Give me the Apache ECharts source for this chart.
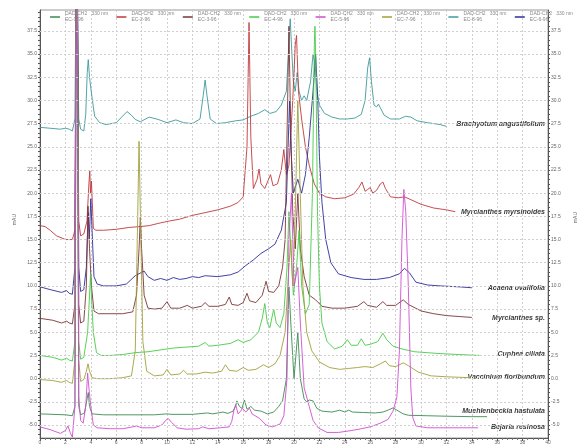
<!DOCTYPE html>
<html><head><meta charset="utf-8">
<script src="https://cdn.jsdelivr.net/npm/echarts@6/dist/echarts.min.js"></script>
<style>html,body{margin:0;padding:0;background:#fff}#c{width:579px;height:445px}</style>
</head><body><div id="c"></div><script>
// ---- data ----
const sampleNames = ['Brachyotum angustifolium','Myrcianthes myrsinoides','Acaena ovalifolia','Myrcianthes sp.','Cuphea ciliata','Vaccinium floribundum','Muehlenbeckia hastulata','Bejaria resinosa'];
const legendCodes = ['EC-8-96','EC-2-96','EC-6-96','EC-3-96','EC-4-96','EC-7-96','EC-1-96','EC-5-96'];
const legendOrder = ['EC-1-96','EC-2-96','EC-3-96','EC-4-96','EC-5-96','EC-7-96','EC-8-96','EC-6-96'];
const yTickValues = [-5,-2.5,0,2.5,5,7.5,10,12.5,15,17.5,20,22.5,25,27.5,30,32.5,35,37.5];
const yMinorValues = [-6,-5.5,-5,-4.5,-4,-3.5,-3,-2.5,-2,-1.5,-1,-0.5,0,0.5,1,1.5,2,2.5,3,3.5,4,4.5,5,5.5,6,6.5,7,7.5,8,8.5,9,9.5,10,10.5,11,11.5,12,12.5,13,13.5,14,14.5,15,15.5,16,16.5,17,17.5,18,18.5,19,19.5,20,20.5,21,21.5,22,22.5,23,23.5,24,24.5,25,25.5,26,26.5,27,27.5,28,28.5,29,29.5,30,30.5,31,31.5,32,32.5,33,33.5,34,34.5,35,35.5,36,36.5,37,37.5,38,38.5,39,39.5];

const brachyotum = [[0,27.1],[0.8,27.0],[1.6,26.9],[2.0,27.0],[2.15,27.2],[2.3,26.9],[2.55,26.7],[2.75,28],[2.85,45],[2.95,40],[3.05,28],[3.2,26.9],[3.45,26.7],[3.6,28.5],[3.72,33],[3.8,34.4],[3.9,32.5],[4.05,30.8],[4.3,28.3],[4.7,27.6],[5.2,27.4],[6.0,27.6],[6.5,28.3],[6.85,28.8],[7.2,28.4],[7.5,27.95],[7.9,27.7],[8.6,28.2],[9.3,27.95],[10.0,27.6],[10.7,27.9],[11.3,27.6],[12.0,27.5],[12.6,28],[12.85,30.5],[13.0,32.2],[13.15,30.5],[13.4,28],[13.9,27.5],[14.6,27.6],[15.4,27.8],[16.0,27.9],[16.6,28.3],[17.2,28.6],[17.7,29.0],[18.1,28.6],[18.6,28.8],[19.0,29.5],[19.4,31],[19.6,36],[19.7,38.8],[19.8,36],[19.95,32],[20.1,31],[20.25,33],[20.4,31],[20.6,30],[20.8,30.5],[21.0,30],[21.3,32],[21.5,35],[21.65,34],[21.8,31],[22.0,29.5],[22.4,28.6],[23.0,28.2],[23.6,28],[24.2,28],[24.8,28.1],[25.3,28.5],[25.6,30],[25.8,33.5],[25.95,34.6],[26.1,32],[26.3,29.5],[26.5,29.3],[26.65,29.6],[26.8,29.2],[27.1,28.4],[27.6,28],[28.3,28],[28.8,28.3],[29.2,28.2],[29.7,27.8],[30.5,27.6],[31.5,27.4],[32.0,27.2]];
const myrsinoides = [[0,16.5],[0.4,16.4],[0.8,16.0],[1.3,15.4],[2.0,15.0],[2.55,15.0],[2.75,16],[2.85,44],[2.95,40],[3.05,17],[3.2,15.4],[3.45,15.6],[3.7,17],[3.85,21],[3.92,22.4],[3.98,20],[4.05,21.3],[4.12,19],[4.2,16.2],[4.4,16.0],[5.0,16.0],[6.0,16.1],[7.0,16.3],[7.9,16.4],[8.6,16.5],[9.5,16.8],[10.2,17.0],[11.0,17.2],[12.0,17.6],[13.0,17.9],[14.0,18.2],[15.0,18.6],[15.6,19.0],[16.0,19.6],[16.3,25],[16.46,38.4],[16.6,26],[16.8,20.5],[17.1,21.5],[17.25,22.6],[17.4,21],[17.7,20.5],[18.0,21.5],[18.15,22.0],[18.35,20.8],[18.7,21],[19.0,22.5],[19.2,24.7],[19.4,22],[19.6,23],[19.9,30],[20.1,36],[20.2,37],[20.35,31],[20.6,28],[20.9,25],[21.2,23],[21.6,21],[22.0,20],[22.5,19.6],[23.2,19.4],[24.0,19.5],[24.7,19.9],[25.1,20.6],[25.35,21.2],[25.6,20.2],[25.8,20.4],[26.0,20.6],[26.2,20.0],[26.5,20.3],[26.8,21.0],[27.0,21.2],[27.2,20.5],[27.6,19.6],[28.2,19.5],[28.7,19.6],[29.2,19.3],[30.0,18.8],[31.0,18.4],[32.0,18.2],[32.7,18.0]];
const acaena = [[0,9.9],[0.8,9.6],[1.7,9.3],[2.1,9.5],[2.3,9.2],[2.55,9.1],[2.75,12],[2.85,50],[2.95,45],[3.05,12],[3.2,9.4],[3.45,9.6],[3.65,12],[3.8,17.9],[3.88,15],[4.0,19.4],[4.1,16],[4.25,11.0],[4.5,10.2],[5.0,10.0],[6.0,10.0],[6.8,10.2],[7.5,11.1],[8.2,11.6],[8.5,11.0],[9.0,10.6],[9.5,10.8],[10.0,10.6],[10.5,10.9],[11.0,10.7],[11.5,10.8],[12.0,11.0],[12.5,10.9],[13.0,11.1],[14.0,11.0],[15.0,11.2],[15.6,11.5],[16.2,12.2],[16.8,12.8],[17.4,13.5],[18.0,14.0],[18.5,14.5],[19.0,16],[19.4,19],[19.65,30],[19.75,25],[19.95,20],[20.3,21.5],[20.6,20],[20.9,22],[21.2,26],[21.5,31],[21.7,35],[21.85,31],[22.0,24],[22.2,19],[22.5,15],[22.9,12.5],[23.5,11.3],[24.5,10.9],[25.5,10.7],[26.5,10.7],[27.5,10.9],[28.3,11.3],[28.7,11.9],[29.1,11.4],[29.6,10.4],[30.5,10.1],[31.5,10.0],[33.0,9.9],[34.0,9.8]];
const myrcianthesSp = [[0,6.5],[1.0,6.3],[1.7,6.0],[2.1,6.2],[2.3,6.0],[2.55,5.9],[2.75,8],[2.85,45],[2.95,40],[3.05,8],[3.2,6.0],[3.45,6.2],[3.65,10],[3.78,18.6],[3.9,14],[4.05,10],[4.25,7.3],[4.6,7.0],[5.5,7.0],[6.5,7.0],[7.3,7.2],[7.6,9],[7.8,14],[7.9,17.4],[8.0,14],[8.2,9],[8.5,7.6],[9.0,7.5],[9.6,7.6],[10.0,8.3],[10.3,7.6],[11.0,7.6],[11.6,7.9],[12.0,7.6],[12.7,7.8],[13.0,8.2],[13.3,7.8],[14.0,7.8],[14.6,8.0],[14.9,8.8],[15.1,8.0],[15.6,7.9],[16.0,8.2],[16.3,9.2],[16.5,8.4],[17.0,8.2],[17.5,9],[17.8,10.5],[18.0,9.4],[18.4,9.3],[18.8,10],[19.1,12],[19.3,15],[19.5,30],[19.6,38],[19.7,30],[19.9,18],[20.1,14],[20.3,20],[20.5,14],[20.8,11],[21.2,9],[21.7,8.5],[22.2,7.8],[23.0,7.6],[24.0,7.6],[25.0,7.8],[25.5,8.3],[25.8,7.9],[26.5,7.7],[27.0,8.3],[27.3,7.9],[28.0,7.9],[28.6,8.5],[29.0,8.0],[30.0,7.3],[31.0,7.0],[32.0,6.8],[33.0,6.7],[34.0,6.6]];
const cuphea = [[0,2.5],[1.0,2.3],[1.7,2.0],[2.1,2.2],[2.3,2.0],[2.55,1.9],[2.75,4],[2.85,45],[2.95,40],[3.05,4],[3.2,2.1],[3.45,2.3],[3.75,5],[3.9,9],[3.98,11.3],[4.05,9],[4.2,5],[4.45,2.8],[4.8,2.5],[5.5,2.5],[6.5,2.6],[7.5,2.8],[8.5,2.9],[9.5,3.1],[10.5,3.3],[11.5,3.4],[12.5,3.5],[13.0,3.9],[13.3,3.5],[14.0,3.6],[15.0,3.8],[15.6,4.2],[16.0,3.9],[16.6,4.2],[17.2,5],[17.5,6.5],[17.7,8.1],[17.9,6],[18.1,5.5],[18.4,7.5],[18.6,6],[18.9,5.5],[19.2,7],[19.45,12],[19.6,18],[19.75,14],[19.95,9],[20.2,12],[20.4,16],[20.6,10],[20.9,7],[21.2,8],[21.45,20],[21.6,36],[21.65,38],[21.72,34],[21.85,18],[22.0,10],[22.2,6],[22.6,4],[23.2,3.2],[23.8,3.5],[24.2,4.2],[24.5,3.6],[25.0,3.6],[25.3,4.3],[25.6,3.6],[26.0,3.7],[26.6,4.0],[27.0,4.9],[27.3,4.2],[27.8,3.5],[28.5,3.2],[29.5,2.9],[30.5,2.8],[31.5,2.7],[33.0,2.6],[34.6,2.5]];
const vaccinium = [[0,-0.1],[1.0,-0.2],[1.7,-0.4],[2.1,-0.2],[2.3,-0.4],[2.55,-0.5],[2.75,2],[2.85,43],[2.95,38],[3.05,2],[3.2,-0.3],[3.45,-0.1],[3.65,0.8],[3.78,1.6],[3.9,0.8],[4.1,0.1],[4.5,0.0],[5.5,0.0],[6.5,0.1],[7.2,0.3],[7.5,3],[7.7,18],[7.8,25.6],[7.9,18],[8.1,4],[8.4,0.8],[9.0,0.3],[9.7,0.4],[10.0,1.0],[10.3,0.4],[11.0,0.5],[11.3,0.9],[11.6,0.5],[12.3,0.5],[13.0,0.7],[13.6,0.6],[14.3,0.8],[14.6,1.5],[14.9,0.9],[15.5,0.8],[16.0,1.2],[16.4,0.9],[17.0,1.0],[17.6,1.5],[18.0,1.2],[18.5,1.6],[18.9,2.5],[19.3,5],[19.6,12],[19.75,15],[19.9,10],[20.1,18],[20.3,30],[20.45,22],[20.7,10],[21.0,5],[21.4,3],[22.0,1.8],[22.8,1.2],[23.6,1.0],[24.3,1.1],[25.0,1.2],[25.6,1.3],[26.2,1.2],[26.8,1.6],[27.2,1.9],[27.5,1.4],[28.0,1.3],[28.6,1.7],[29.0,1.4],[29.8,0.7],[30.8,0.3],[32.0,0.2],[33.9,0.1]];
const muehlenbeckia = [[0,-3.8],[2.0,-3.9],[2.55,-4.0],[2.75,-3],[2.85,40],[2.95,35],[3.05,-3],[3.2,-3.9],[3.5,-3.7],[3.8,-1.5],[3.9,-3.0],[4.1,-3.8],[5.0,-3.9],[7.0,-3.9],[9.0,-3.9],[10.0,-3.8],[10.1,-3.6],[10.3,-3.85],[12.0,-3.85],[13.2,-3.7],[13.6,-3.8],[14.4,-3.6],[14.8,-3.75],[15.2,-3.5],[15.4,-3.0],[15.5,-2.4],[15.7,-3.0],[15.9,-3.2],[16.1,-2.3],[16.3,-3.3],[16.6,-3.0],[16.9,-3.4],[17.4,-3.5],[17.9,-3.8],[18.4,-3.6],[18.8,-3.0],[19.1,-2.4],[19.4,0],[19.6,10],[19.75,6],[20.0,0],[20.3,5],[20.5,0],[20.8,-2.2],[21.0,-2.5],[21.2,-2.3],[21.5,-2.4],[21.8,-3.2],[22.2,-3.5],[23.0,-3.6],[23.6,-3.4],[24.0,-3.6],[24.3,-3.4],[24.6,-3.6],[25.4,-3.65],[26.4,-3.7],[27.0,-3.6],[27.4,-3.4],[27.8,-3.15],[28.1,-3.4],[28.6,-3.8],[29.0,-3.95],[30.5,-4.0],[32.0,-4.05],[34.0,-4.1],[35.2,-4.1]];
const bejaria = [[0,-5.2],[0.8,-5.5],[1.6,-5.9],[2.0,-5.6],[2.2,-5.1],[2.4,-5.9],[2.55,-6.3],[2.75,-3],[2.85,42],[2.95,37],[3.05,-2],[3.2,-4.5],[3.4,-4.8],[3.6,-3],[3.75,0.6],[3.85,-1],[4.0,-3],[4.2,-5.0],[4.5,-5.3],[5.5,-5.4],[6.5,-5.4],[7.3,-5.2],[7.6,-5.1],[8.0,-5.3],[9.0,-5.3],[9.6,-5.0],[9.9,-4.5],[10.1,-4.3],[10.35,-4.7],[10.8,-5.3],[11.5,-5.45],[12.5,-5.4],[12.8,-5.2],[13.3,-5.4],[14.2,-5.3],[14.9,-5.2],[15.1,-4.6],[15.3,-3.2],[15.4,-2.8],[15.6,-3.8],[15.8,-3.5],[15.95,-3.2],[16.2,-3.6],[16.5,-3.2],[16.7,-3.8],[17.3,-4.3],[17.8,-5.0],[18.3,-5.2],[18.9,-4.9],[19.2,-4.0],[19.45,0],[19.6,15],[19.8,20],[20.0,10],[20.3,12],[20.5,6],[20.8,-1],[21.2,-3],[21.5,-4.5],[21.9,-5.3],[22.6,-5.8],[23.5,-5.8],[24.5,-5.6],[25.3,-5.4],[26.0,-5.2],[26.8,-4.8],[27.4,-4.4],[27.8,-3.5],[28.1,-2],[28.3,3],[28.5,15],[28.65,20.4],[28.8,18],[29.0,10],[29.2,-1],[29.35,-4.2],[29.6,-5.1],[30.5,-5.3],[31.5,-5.3],[32.5,-5.3],[34.5,-5.3]];

const traces = [brachyotum, myrsinoides, acaena, myrcianthesSp, cuphea, vaccinium, muehlenbeckia, bejaria];

// ---- styles / layout ----
const colors = ['#3e9a9c','#c0393c','#2c2c9c','#7c3434','#45cc45','#a0a03a','#3a8c50','#d04ed0'];
const labelPos = [[545,124],[545,212],[545,288],[545,318],[545,354],[545,377],[545,411],[545,427]];

const chart = echarts.init(document.getElementById('c'), null, {renderer:'canvas'});
const series = traces.map((d,i)=>({
  name: legendCodes[i], type:'line', data:d, showSymbol:false, symbol:'none',
  lineStyle:{width:0.9, color:colors[i]}, itemStyle:{color:colors[i]}, z:3, animation:false, clip:true
}));
series.unshift({
  name:'grid', type:'line', data:[], z:1, silent:true, animation:false,
  markLine:{silent:true, symbol:'none', animation:false, label:{show:false},
    lineStyle:{type:[2,2], color:'#cfcfcf', width:1},
    data: yTickValues.map(v=>({yAxis:v}))}
});
const legends = legendOrder.map((code,i)=>({
  data:[code], left: 50 + 66.4*i, top: 11, orient:'horizontal',
  icon:'rect', itemWidth:10, itemHeight:1.5, itemGap:0,
  formatter: n => 'DAD-CH2   330 nm\n' + n,
  textStyle:{fontSize:5, color:'#8a8a8a', lineHeight:6, padding:[0,0,0,0], fontFamily:'Liberation Sans'},
  padding:0, selectedMode:false
}));
const yAxisBase = {
  type:'value', min:-6.4, max:39.75,
  axisLine:{show:true, lineStyle:{color:'#555', width:1}},
  axisTick:{show:true, length:2, customValues:yMinorValues, lineStyle:{color:'#555'}},
  axisLabel:{show:true, customValues:yTickValues, formatter:v=>v.toFixed(1), fontSize:5, color:'#666', margin:3, fontFamily:'Liberation Sans'},
  splitLine:{show:false}
};
chart.setOption({
  backgroundColor:'#fff',
  animation:false,
  grid:{left:40, right:31, top:10, bottom:5, show:true, borderColor:'#999', borderWidth:1, containLabel:false},
  legend: legends,
  xAxis:{type:'value', min:0, max:40, interval:2,
    axisLine:{show:true, onZero:false, lineStyle:{color:'#555'}},
    axisTick:{show:true, length:3, lineStyle:{color:'#555'}},
    minorTick:{show:true, splitNumber:5, length:2, lineStyle:{color:'#777'}},
    axisLabel:{fontSize:5, color:'#666', margin:2, fontFamily:'Liberation Sans'},
    splitLine:{show:true, lineStyle:{type:[2,2], color:'#cfcfcf'}}
  },
  yAxis:[Object.assign({}, yAxisBase, {position:'left'}), Object.assign({}, yAxisBase, {position:'right'})],
  series: series,
  graphic: [
    {type:'text', left:12, top:214, rotation:Math.PI/2, style:{text:'mAU', fontSize:5, fill:'#666', fontFamily:'Liberation Sans'}},
    {type:'text', left:573, top:212, rotation:Math.PI/2, style:{text:'mAU', fontSize:5, fill:'#666', fontFamily:'Liberation Sans'}}
  ].concat(sampleNames.map((n,i)=>({
    type:'text', x:labelPos[i][0], y:labelPos[i][1],
    style:{text:n, fontSize:7, fontWeight:'bold', fontStyle:'italic', fill:'#3a3a3a', align:'right', verticalAlign:'middle', fontFamily:'Liberation Sans'}
  })))
});
</script></body></html>
